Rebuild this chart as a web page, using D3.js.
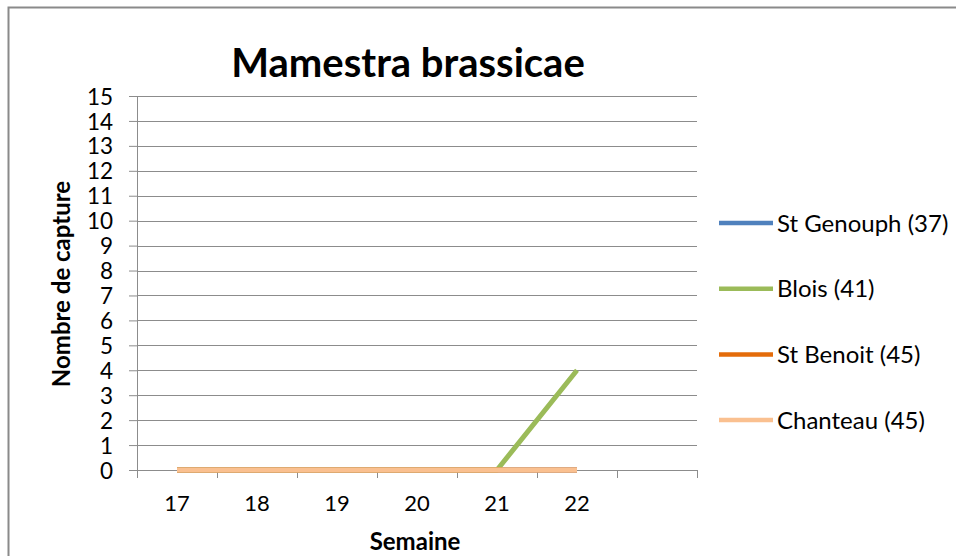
<!DOCTYPE html>
<html>
<head>
<meta charset="utf-8">
<script src="https://cdn.jsdelivr.net/npm/d3@7"></script>
<style>
  body { margin: 0; background: white; }
  text { font-family: Lato, "Open Sans", sans-serif; fill: #000; }
</style>
</head>
<body>
<div id="chart"></div>
<script>
// data
var weeks = ["17", "18", "19", "20", "21", "22"];
var xSlots = ["17", "18", "19", "20", "21", "22", ""];   // excel leaves one empty slot at the end
var seriesNames = ["St Genouph (37)", "Blois (41)", "St Benoit (45)", "Chanteau (45)"];
var stGenouph = [0, 0, 0, 0, 0, 0];
var blois = [0, 0, 0, 0, 0, 4];
var stBenoit = [0, 0, 0, 0, 0, 0];
var chanteau = [0, 0, 0, 0, 0, 0];
var colors = ["#4F81BD", "#9BBB59", "#E46C0A", "#FAC090"];

var W = 956, H = 556;
var margin = {top: 96, left: 137, right: 259, bottom: 86};
var width = W - margin.left - margin.right,
    height = H - margin.top - margin.bottom;

var svg = d3.select("#chart").append("svg")
  .attr("width", W).attr("height", H);

// chart border (only top and left show in the picture)
svg.append("path")
  .attr("d", "M8.5,560 L8.5,7.5 L960,7.5")
  .attr("fill", "none").attr("stroke", "#8a8a8a").attr("stroke-width", 2);

var g = svg.append("g")
  .attr("transform", "translate(" + margin.left + "," + margin.top + ")");

var x = d3.scaleBand().domain(xSlots).range([0, width]);
var y = d3.scaleLinear().domain([0, 15]).range([height, 0]);

// gridlines
g.selectAll(".grid").data(d3.range(1, 16)).enter().append("line")
  .attr("x1", 0).attr("x2", width)
  .attr("y1", function(d) { return Math.round(y(d)) + 0.5; })
  .attr("y2", function(d) { return Math.round(y(d)) + 0.5; })
  .attr("stroke", "#8c8c8c").attr("stroke-width", 1);

// y axis
var yAxis = g.append("g")
  .call(d3.axisLeft(y).tickValues(d3.range(0, 16)).tickSize(8).tickPadding(16));
yAxis.selectAll("line").attr("stroke", "#8c8c8c");
yAxis.select(".domain").attr("stroke", "#8c8c8c");
yAxis.selectAll("text").style("font-size", "22.5px").attr("dy", "0.36em");

// x axis: ticks between categories, labels in the middle
var xb = d3.scaleLinear().domain([0, xSlots.length]).range([0, width]);
var xAxis = g.append("g")
  .attr("transform", "translate(0," + height + ")")
  .call(d3.axisBottom(xb).tickValues(d3.range(0, xSlots.length + 1)).tickSize(8).tickFormat(""));
xAxis.selectAll("line").attr("stroke", "#8c8c8c");
xAxis.select(".domain").attr("stroke", "#8c8c8c").attr("d", "M0.5,0.5H" + width);

g.selectAll(".xlab").data(xSlots).enter().append("text")
  .attr("x", function(d) { return x(d) + x.bandwidth() / 2; })
  .attr("y", height + 41)
  .attr("text-anchor", "middle")
  .style("font-size", "22px")
  .text(function(d) { return d; });

// lines
var allSeries = [stGenouph, blois, stBenoit, chanteau];
var line = d3.line()
  .x(function(d, i) { return x(weeks[i]) + x.bandwidth() / 2; })
  .y(function(d) { return y(d); });

g.selectAll(".series").data(allSeries).enter().append("path")
  .attr("d", function(d) { return line(d); })
  .attr("fill", "none")
  .attr("stroke", function(d, i) { return colors[i]; })
  .attr("stroke-width", 5)
  .attr("stroke-linejoin", "round");

// titles
svg.append("text")
  .attr("x", 408).attr("y", 77)
  .attr("text-anchor", "middle")
  .style("font-size", "40px").style("font-weight", "bold")
  .text("Mamestra brassicae");

svg.append("text")
  .attr("x", margin.left + width / 2 - 2).attr("y", 550)
  .attr("text-anchor", "middle")
  .style("font-size", "24px").style("font-weight", "bold")
  .text("Semaine");

svg.append("text")
  .attr("transform", "translate(70,284) rotate(-90)")
  .attr("text-anchor", "middle")
  .style("font-size", "24px").style("font-weight", "bold")
  .text("Nombre de capture");

// legend
var legend = svg.selectAll(".legend").data(seriesNames).enter().append("g")
  .attr("transform", function(d, i) { return "translate(719," + (223 + i * 65.7) + ")"; });
legend.append("line")
  .attr("x1", 0).attr("x2", 54)
  .attr("stroke", function(d, i) { return colors[i]; })
  .attr("stroke-width", 4.5);
legend.append("text")
  .attr("x", 58).attr("dy", "0.36em")
  .style("font-size", "24px")
  .text(function(d) { return d; });
</script>
</body>
</html>
